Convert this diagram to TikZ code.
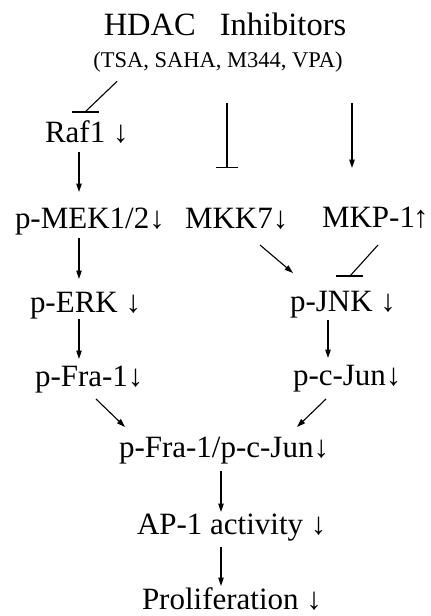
\documentclass[tikz,border=0pt]{standalone}
\usepackage{fontspec}
\setmainfont{Liberation Serif}
\usetikzlibrary{arrows.meta,calc}
\newcommand{\mainsz}{\fontsize{31}{37}\selectfont}
\newcommand{\headsz}{\fontsize{32.5}{38}\selectfont}
\newcommand{\subsz}{\fontsize{22.5}{27}\selectfont}
\begin{document}
\begin{tikzpicture}[x=1pt,y=-1pt,
  lbl/.style={font=\mainsz, anchor=base west, inner sep=0pt, outer sep=0pt, text height=20pt, text depth=6pt},
  arr/.style={-{Triangle[length=8.5pt,width=5.5pt]}, line width=1.1pt},
  inh/.style={-{Bar[width=22pt,line width=1.1pt]}, line width=1.1pt},
  plain/.style={line width=1.1pt}]
\fill[white] (0,0) rectangle (431,616);
\useasboundingbox (0,0) rectangle (431,616);
% header
\node[font=\headsz, anchor=base, inner sep=0pt] (hdac) at (225,35) {HDAC\hspace{24pt}Inhibitors};
\node[font=\subsz, anchor=base, inner sep=0pt, text depth=5pt] (tsa) at (218,67) {(TSA, SAHA, M344, VPA)};
% nodes
\node[lbl] (raf)  at (45,142)  {Raf1 ↓};
\node[lbl] (mek)  at (15,228)  {p-MEK1/2↓};
\node[lbl] (mkk)  at (185,228) {MKK7↓};
\node[lbl] (mkp)  at (322,227) {MKP-1\kern-2pt↑};
\node[lbl] (erk)  at (30,312)  {p-ERK ↓};
\node[lbl] (jnk)  at (290,311) {p-JNK ↓};
\node[lbl] (fra)  at (35,386)  {p-Fra-1↓};
\node[lbl] (cjun) at (293,385) {p-c-Jun↓};
\node[lbl] (comb) at (119,457) {p-Fra-1/p-c-Jun↓};
\node[lbl] (ap1)  at (137,534) {AP-1 activity ↓};
\node[lbl, text depth=1pt] (prol) at (142,609) {Proliferation ↓};
% column coordinates
\coordinate (xl) at (79,0);
\coordinate (xj) at (328,0);
\coordinate (xc) at (221,0);
\coordinate (xm) at (227,0);
\coordinate (xr) at (352,0);
% header connectors
\coordinate (h1s) at ($(tsa.south west)+(24,9)$);
\coordinate (h1e) at ($(raf.north west)+(40,-10)$);
\draw[plain] (h1s) -- (h1e);
\draw[plain] ([xshift=-13pt]h1e) -- ([xshift=14pt]h1e);
\draw[inh, shorten <=31pt, shorten >=40pt] (tsa.south -| xm) -- (mkk.north -| xm);
\draw[arr, shorten <=31pt, shorten >=39pt] (tsa.south -| xr) -- (mkp.north -| xr);
% left column
\draw[arr, shorten <=4pt, shorten >=16pt] (raf.south -| xl) -- (mek.north -| xl);
\draw[arr, shorten <=4pt, shorten >=13pt] (mek.south -| xl) -- (erk.north -| xl);
\draw[arr, shorten <=1pt, shorten >=7pt] (erk.south -| xl) -- (fra.north -| xl);
% right column
\draw[arr] ($(mkk.south west)+(75,11)$) -- ($(jnk.north west)+(3,-18)$);
\coordinate (h2e) at ($(jnk.north west)+(60,-15)$);
\draw[plain] ($(mkp.south west)+(56,12)$) -- (h2e);
\draw[plain] ([xshift=-14pt]h2e) -- ([xshift=13pt]h2e);
\draw[arr, shorten <=3pt, shorten >=7pt] (jnk.south -| xj) -- (cjun.north -| xj);
% merge
\draw[arr] ($(fra.south west)+(61,7)$) -- ($(comb.north west)+(6,-10)$);
\draw[arr] ($(cjun.south west)+(33,8)$) -- ($(comb.north west)+(178,-10)$);
% bottom
\draw[arr, shorten <=8pt, shorten >=2pt] (comb.south -| xc) -- (ap1.north -| xc);
\draw[arr, shorten <=7pt, shorten >=3pt] (ap1.south -| xc) -- (prol.north -| xc);
\end{tikzpicture}
\end{document}
